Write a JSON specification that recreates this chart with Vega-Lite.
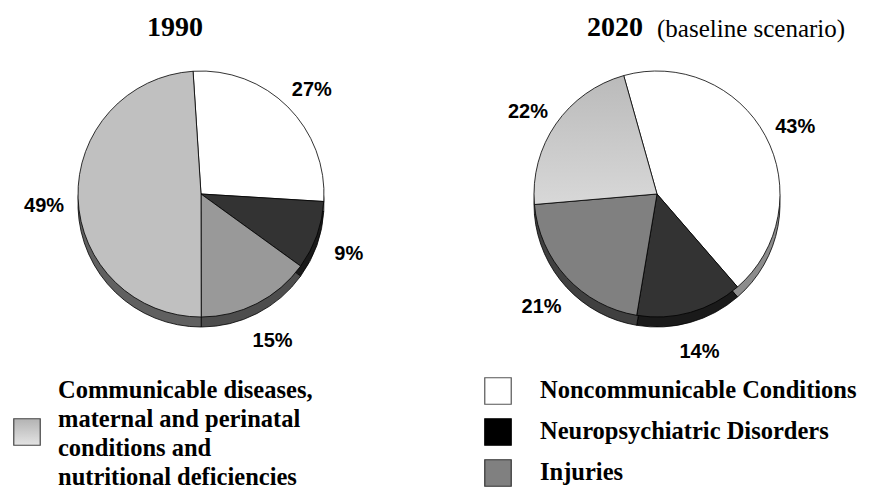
{
  "$schema": "https://vega.github.io/schema/vega-lite/v6.json",
  "background": "white",
  "padding": {"top": 14, "left": 0, "right": 0, "bottom": 0},
  "config": {"view": {"stroke": null}},
  "title": {"text": "2020", "anchor": "start", "frame": "bounds", "dx": 587, "offset": -28, "font": "Liberation Serif", "fontSize": 28, "fontWeight": "bold", "color": "#000"},
  "spacing": 0,
  "vconcat": [
    {
      "hconcat": [
        {
          "width": 402,
          "height": 284,
          "title": {"text": "1990", "dx": -26, "offset": 10, "font": "Liberation Serif", "fontSize": 28, "fontWeight": "bold", "color": "#000"},
          "data": {"values": [
            {"cat": "Noncommunicable", "pct": 27, "ord": 1, "label": "27%"},
            {"cat": "Neuropsychiatric", "pct": 9, "ord": 2, "label": "9%"},
            {"cat": "Injuries", "pct": 15, "ord": 3, "label": "15%"},
            {"cat": "Communicable", "pct": 49, "ord": 4, "label": "49%"}
          ]},
          "encoding": {
            "theta": {"field": "pct", "type": "quantitative", "stack": true, "scale": {"range": [-0.0646, 6.2186]}},
            "order": {"field": "ord", "type": "quantitative"}
          },
          "layer": [
            {
              "mark": {"type": "arc", "radius": 123, "stroke": "#000", "strokeWidth": 0.8, "yOffset": 10},
              "encoding": {"fill": {"field": "cat", "type": "nominal", "legend": null,
                "scale": {"domain": ["Noncommunicable", "Neuropsychiatric", "Injuries", "Communicable"], "range": ["#999999", "#1a1a1a", "#4d4d4d", "#606060"]}}}
            },
            {
              "mark": {"type": "arc", "radius": 123, "stroke": "#000", "strokeWidth": 0.8},
              "encoding": {"fill": {"field": "cat", "type": "nominal", "legend": null,
                "scale": {"domain": ["Noncommunicable", "Neuropsychiatric", "Injuries", "Communicable"], "range": ["#ffffff", "#333333", "#999999", "#c0c0c0"]}}}
            },
            {
              "mark": {"type": "text", "radius": 157, "dy": 7, "font": "Liberation Sans", "fontWeight": "bold", "fontSize": 20, "color": "#000"},
              "encoding": {"text": {"field": "label", "type": "nominal"}}
            }
          ],
          "resolve": {"scale": {"fill": "independent"}}
        },
        {
          "width": 310,
          "height": 284,
          "title": {"text": "(baseline scenario)", "anchor": "start", "dx": 155, "offset": 10,
            "font": "Liberation Serif", "fontSize": 25, "fontWeight": "normal", "color": "#000"},
          "data": {"values": [
            {"cat": "Noncommunicable", "pct": 43, "ord": 1, "label": "43%"},
            {"cat": "Neuropsychiatric", "pct": 14, "ord": 2, "label": "14%"},
            {"cat": "Injuries", "pct": 21, "ord": 3, "label": "21%"},
            {"cat": "Communicable", "pct": 22, "ord": 4, "label": "22%"}
          ]},
          "encoding": {
            "theta": {"field": "pct", "type": "quantitative", "stack": true, "scale": {"range": [-0.274, 6.0092]}},
            "order": {"field": "ord", "type": "quantitative"}
          },
          "layer": [
            {
              "mark": {"type": "arc", "radius": 123, "stroke": "#000", "strokeWidth": 0.8, "yOffset": 10},
              "encoding": {"fill": {"field": "cat", "type": "nominal", "legend": null,
                "scale": {"domain": ["Noncommunicable", "Neuropsychiatric", "Injuries", "Communicable"], "range": ["#8c8c8c", "#1a1a1a", "#404040", "#646464"]}}}
            },
            {
              "mark": {"type": "arc", "radius": 123, "stroke": "#000", "strokeWidth": 0.8},
              "encoding": {"fill": {
                "condition": {"test": "datum.cat === 'Communicable'", "value": {"gradient": "linear", "x1": 0, "y1": 0, "x2": 0, "y2": 1, "stops": [{"offset": 0, "color": "#bababa"}, {"offset": 1, "color": "#d8d8d8"}]}},
                "field": "cat", "type": "nominal", "legend": null,
                "scale": {"domain": ["Noncommunicable", "Neuropsychiatric", "Injuries", "Communicable"], "range": ["#ffffff", "#333333", "#808080", "#c8c8c8"]}}}
            },
            {
              "mark": {"type": "text", "radius": 157, "dy": 7, "font": "Liberation Sans", "fontWeight": "bold", "fontSize": 20, "color": "#000"},
              "encoding": {"text": {"field": "label", "type": "nominal"}}
            }
          ],
          "resolve": {"scale": {"fill": "independent"}}
        }
      ],
      "spacing": 100,
      "resolve": {"scale": {"theta": "independent", "fill": "independent"}}
    },
    {
      "width": 869,
      "height": 127,
      "data": {"values": [
        {"cat": "Communicable", "label": "Communicable diseases,\nmaternal and perinatal\nconditions and\nnutritional deficiencies", "col": "a", "row": "2"},
        {"cat": "Noncommunicable", "label": "Noncommunicable Conditions", "col": "b", "row": "1"},
        {"cat": "Neuropsychiatric", "label": "Neuropsychiatric Disorders", "col": "b", "row": "2"},
        {"cat": "Injuries", "label": "Injuries", "col": "b", "row": "3"}
      ]},
      "encoding": {
        "x": {"field": "col", "type": "nominal", "axis": null, "scale": {"type": "point", "padding": 0, "domain": ["a", "b"], "range": [27, 498]}},
        "y": {"field": "row", "type": "nominal", "axis": null, "scale": {"type": "point", "padding": 0, "domain": ["1", "2", "3"], "range": [26, 108]}}
      },
      "layer": [
        {
          "mark": {"type": "square", "size": 700, "opacity": 1, "strokeWidth": 1.2, "yOffset": 2},
          "encoding": {
            "fill": {
              "condition": {"test": "datum.cat === 'Communicable'", "value": {"gradient": "linear", "x1": 0, "y1": 0, "x2": 0, "y2": 1, "stops": [{"offset": 0, "color": "#b3b3b3"}, {"offset": 1, "color": "#e4e4e4"}]}},
              "field": "cat", "type": "nominal", "legend": null,
              "scale": {"domain": ["Noncommunicable", "Neuropsychiatric", "Injuries", "Communicable"], "range": ["#ffffff", "#000000", "#808080", "#cccccc"]}
            },
            "stroke": {"field": "cat", "type": "nominal", "legend": null,
              "scale": {"domain": ["Noncommunicable", "Neuropsychiatric", "Injuries", "Communicable"], "range": ["#555555", "#000000", "#333333", "#444444"]}}
          }
        },
        {
          "transform": [{"filter": "datum.col === 'a'"}],
          "mark": {"type": "text", "align": "left", "baseline": "alphabetic", "dx": 31, "dy": -32, "font": "Liberation Serif", "fontWeight": "bold", "fontSize": 24.5, "lineBreak": "\n", "lineHeight": 29, "color": "#000"},
          "encoding": {"text": {"field": "label", "type": "nominal"}}
        },
        {
          "transform": [{"filter": "datum.col === 'b'"}],
          "mark": {"type": "text", "align": "left", "baseline": "alphabetic", "dx": 42, "dy": 9, "font": "Liberation Serif", "fontWeight": "bold", "fontSize": 24.5, "color": "#000"},
          "encoding": {"text": {"field": "label", "type": "nominal"}}
        }
      ],
      "resolve": {"scale": {"fill": "independent", "stroke": "independent"}}
    }
  ]
}
